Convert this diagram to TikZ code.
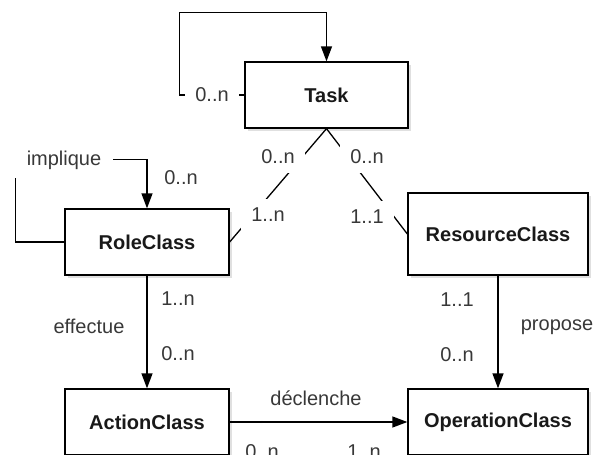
\documentclass[tikz,border=0pt]{standalone}
\usepackage{fontspec}
\setmainfont{Liberation Sans}
\usetikzlibrary{arrows.meta,shadows}

\tikzset{
  cls/.style={draw, line width=1.3pt, fill=white, minimum width=164pt,
    minimum height=66pt, text=black!90,
    font=\fontsize{20}{24}\selectfont\bfseries,
    drop shadow={shadow xshift=2.5pt, shadow yshift=-2.5pt, fill=black!20, opacity=.6}},
  mult/.style={font=\fontsize{20}{24}\selectfont, text=black!78, inner sep=0pt},
  gap/.style={mult, fill=white, inner xsep=10pt, inner ysep=9pt},
  link/.style={line width=1.3pt},
  arr/.style={link, -{Triangle[length=15pt,width=11pt]}}
}

\begin{document}
\begin{tikzpicture}[x=1pt,y=-1pt]
  \useasboundingbox (0,0) rectangle (605,455);
  \clip (0,0) rectangle (605,454);

  % classes
  \node[cls, minimum width=163pt] (task) at (326.5,95) {Task};
  \node[cls] (role) at (147,242) {RoleClass};
  \node[cls, minimum width=180pt, minimum height=82pt] (res) at (498,234) {ResourceClass};
  \node[cls] (action) at (147,422) {ActionClass};
  \node[cls, minimum width=180pt] (oper) at (498,422) {OperationClass};

  % Task on itself
  \draw[arr] (task.west) -- ++(-65,0) |- ([yshift=49pt]task.north) -- (task.north);
  \node[gap] (loopTask) at (212,95) {0..n};

  % implique
  \draw[arr] (role.west) -- ++(-49,0) |- ([yshift=49pt]role.north) -- (role.north);
  \node[gap, inner xsep=12pt] (implique) at (64,160) {implique};
  \node[mult] (implN) at (181,178) {0..n};

  % Task -- RoleClass, Task -- ResourceClass
  \draw[link] (task.south) -- (role.east);
  \node[gap] (trTask) at (278,157) {0..n};
  \node[gap] (trRole) at (268,215) {1..n};
  \draw[link] (task.south) -- (res.west);
  \node[gap] (tsTask) at (367,157) {0..n};
  \node[gap] (tsRes) at (367,217) {1..1};

  % effectue
  \draw[arr] (role.south) -- (action.north);
  \node[mult] (effRole) at (178,299) {1..n};
  \node[mult] (effAct) at (178,354) {0..n};
  \node[mult] (effectue) at (89,326) {effectue};

  % propose
  \draw[arr] (res.south) -- (oper.north);
  \node[mult] (propRes) at (457,300) {1..1};
  \node[mult] (propOp) at (457,355) {0..n};
  \node[mult] (propose) at (557,327) {propose};

  % declenche
  \draw[arr] (action.east) -- (oper.west);
  \node[mult] (declenche) at (316,398) {déclenche};
  \node[mult] (declAct) at (262,452) {0..n};
  \node[mult] (declOp) at (364,452) {1..n};
\end{tikzpicture}
\end{document}
